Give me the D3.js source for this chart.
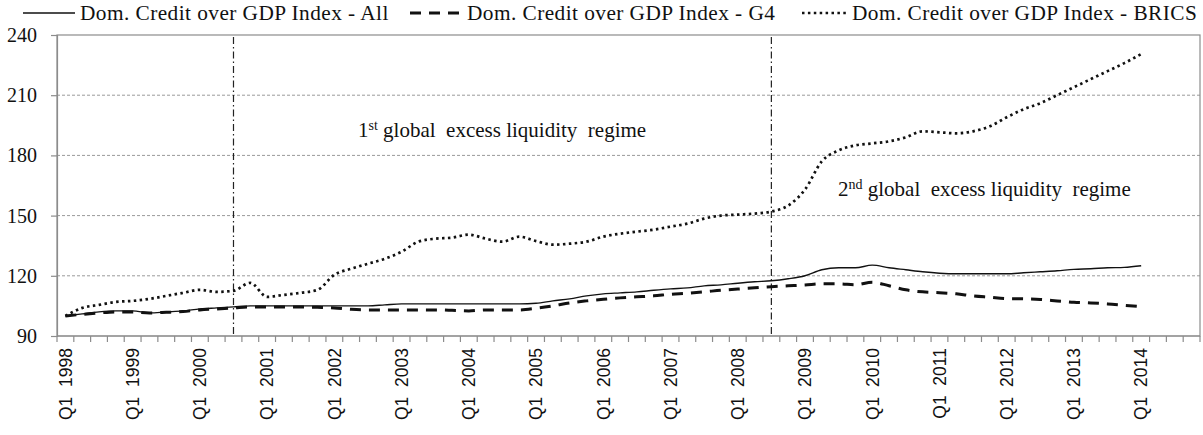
<!DOCTYPE html>
<html>
<head>
<meta charset="utf-8">
<script src="https://cdn.jsdelivr.net/npm/d3@7"></script>
<style>
  html, body { margin: 0; padding: 0; background: #fff; }
  svg { display: block; }
  text { white-space: pre; }
</style>
</head>
<body>
<svg id="chart" width="1203" height="435"></svg>
<script>
// ---------- DATA ----------
const years = d3.range(1998, 2015);
const quarters = years.flatMap(y => [1, 2, 3, 4].map(q => "Q" + q + " " + y));
const yTicks = [90, 120, 150, 180, 210, 240];
const seriesNames = [
  "Dom. Credit over GDP Index - All",
  "Dom. Credit over GDP Index - G4",
  "Dom. Credit over GDP Index - BRICS"
];
// Q1 1998 .. Q1 2014 (65 quarters)
const allValues = [
  100, 101, 102, 102.5, 102.5, 101.5, 102, 102.5, 103.5, 104, 104.5, 105,
  105, 105, 105, 105, 105, 105, 105, 105.5, 106, 106, 106, 106,
  106, 106, 106, 106, 106.3, 107.5, 108.5, 110, 111, 111.5, 112, 112.8,
  113.5, 114, 115, 115.5, 116.3, 117, 117.5, 118.5, 120, 123, 124, 124,
  125.3, 124, 123, 122, 121.3, 121, 121, 121, 121, 121.5, 122, 122.5,
  123.2, 123.5, 124, 124.2, 125
];
const g4Values = [
  100, 100.8, 101.5, 102, 102, 101.5, 101.8, 102.2, 103, 103.5, 104, 104.5,
  104.5, 104.5, 104.5, 104.3, 104, 103.3, 103, 103, 103, 103, 103, 102.8,
  102.5, 103, 103, 103, 103.8, 105, 106.5, 107.5, 108.3, 109, 109.5, 110,
  110.8, 111.3, 112, 112.8, 113.4, 114, 114.6, 115, 115.4, 116, 116, 115.5,
  116.8, 115, 113, 112, 111.6, 111, 110, 109.3, 108.6, 108.5, 108.2, 107.5,
  106.8, 106.5, 106, 105.3, 104.6
];
const bricsValues = [
  100, 104, 105.5, 107, 107.5, 108.5, 110, 111.5, 113, 112, 112.5, 116.5,
  109.5, 110.5, 111.5, 113, 120.5, 123.5, 126, 128.5, 132, 137, 138.5, 139,
  140.5, 138.5, 137, 139.5, 137.3, 135.5, 136, 137, 139.5, 141, 142, 143,
  144.5, 146, 148.5, 150, 150.5, 151, 152, 155, 163, 177, 182.5, 185,
  186, 187, 189, 192, 191.5, 191, 192, 194.5, 199, 203, 206, 210,
  214, 218, 222, 226, 230.5
];
const regimeStarts = ["Q3 2000", "Q3 2008"];

// ---------- LAYOUT ----------
const svg = d3.select("#chart");
const mLeft = 57, mRight = 1200, mTop = 35, mBottom = 336;
const serif = "'Liberation Serif', 'Times New Roman', serif";
const sans = "'Liberation Sans', Arial, sans-serif";
const ink = "#111";
const gridColor = "#9a9a9a";
const axisColor = "#8c8c8c";

const x = d3.scaleBand().domain(quarters).range([mLeft, mRight]).padding(0);
const y = d3.scaleLinear().domain([90, 240]).range([mBottom, mTop]);
const cx = q => x(q) + x.bandwidth() / 2;

// gridlines
svg.append("g").selectAll("line")
  .data(yTicks.filter(v => v !== 90 && v !== 240))
  .join("line")
  .attr("x1", mLeft).attr("x2", mRight)
  .attr("y1", d => y(d)).attr("y2", d => y(d))
  .attr("stroke", gridColor).attr("stroke-width", 1)
  .attr("stroke-dasharray", "3,2");

// plot frame
svg.append("rect")
  .attr("x", mLeft).attr("y", y(240))
  .attr("width", mRight - mLeft).attr("height", y(90) - y(240))
  .attr("fill", "none").attr("stroke", axisColor).attr("stroke-width", 1.2);

// Y axis
const yAxis = d3.axisLeft(y).tickValues(yTicks).tickSize(6).tickPadding(14).tickFormat(d3.format("d"));
const gy = svg.append("g").attr("transform", `translate(${mLeft},0)`).call(yAxis);
gy.select(".domain").attr("stroke", axisColor).attr("stroke-width", 1.2);
gy.selectAll(".tick line").attr("stroke", axisColor).attr("stroke-width", 1.2);
gy.selectAll(".tick text").attr("font-family", serif).attr("font-size", 20).attr("fill", ink);

// X axis: tick marks at band boundaries
const boundaries = d3.range(quarters.length + 1).map(i => x.range()[0] + i * x.step());
svg.append("g").selectAll("line").data(boundaries).join("line")
  .attr("x1", d => d).attr("x2", d => d)
  .attr("y1", mBottom).attr("y2", mBottom + 6)
  .attr("stroke", axisColor).attr("stroke-width", 1.2);
svg.append("line").attr("x1", mLeft).attr("x2", mRight).attr("y1", mBottom).attr("y2", mBottom)
  .attr("stroke", axisColor).attr("stroke-width", 1.2);

// X labels (Q1 of each year)
const xAxis = d3.axisBottom(x).tickSize(0).tickValues(quarters.filter(q => q.startsWith("Q1") && q !== "Q1 2015"))
  .tickFormat(q => q.replace(" ", "  "));
const gx = svg.append("g").attr("transform", `translate(0,${mBottom})`).call(xAxis);
gx.select(".domain").remove();
gx.selectAll(".tick text")
  .attr("font-family", sans).attr("font-size", 17.5).attr("fill", ink)
  .attr("transform", "rotate(-90)")
  .attr("text-anchor", "end")
  .attr("x", -12).attr("y", 0).attr("dy", "0.36em")
  .style("white-space", "pre");

// regime lines
svg.append("g").selectAll("line").data(regimeStarts).join("line")
  .attr("x1", d => cx(d)).attr("x2", d => cx(d))
  .attr("y1", y(240) + 2).attr("y2", mBottom)
  .attr("stroke", "#222").attr("stroke-width", 1.2)
  .attr("stroke-dasharray", "7,3,1.5,3");

// series
const line = d3.line().x((d, i) => cx(quarters[i])).y(d => y(d)).curve(d3.curveMonotoneX);
const styles = [
  { values: allValues, width: 1.4, dash: null },
  { values: g4Values, width: 3, dash: "11,8" },
  { values: bricsValues, width: 2.7, dash: "2.5,3.4" }
];
styles.forEach(s => {
  svg.append("path").datum(s.values)
    .attr("d", line)
    .attr("fill", "none").attr("stroke", "#111")
    .attr("stroke-width", s.width)
    .attr("stroke-dasharray", s.dash);
});

// legend
const legendPos = [
  { x1: 23, x2: 75, tx: 80 },
  { x1: 410, x2: 463, tx: 467 },
  { x1: 802, x2: 848, tx: 852 }
];
seriesNames.forEach((name, i) => {
  const p = legendPos[i], s = styles[i];
  svg.append("line").attr("x1", p.x1).attr("x2", p.x2).attr("y1", 13).attr("y2", 13)
    .attr("stroke", "#111").attr("stroke-width", s.width).attr("stroke-dasharray", s.dash);
  svg.append("text").attr("x", p.tx).attr("y", 20)
    .attr("font-family", serif).attr("font-size", 21.3).attr("letter-spacing", 0.45)
    .attr("fill", ink).text(name);
});

// annotations
function annotate(xp, yp, num, sup) {
  const t = svg.append("text").attr("x", xp).attr("y", yp)
    .attr("font-family", serif).attr("font-size", 21).attr("fill", ink)
    .style("white-space", "pre");
  t.append("tspan").text(num);
  t.append("tspan").attr("font-size", 14).attr("dy", -7).text(sup);
  t.append("tspan").attr("dy", 7).text(" global  excess liquidity  regime");
}
annotate(358, 137, "1", "st");
annotate(838, 196, "2", "nd");
</script>
</body>
</html>
